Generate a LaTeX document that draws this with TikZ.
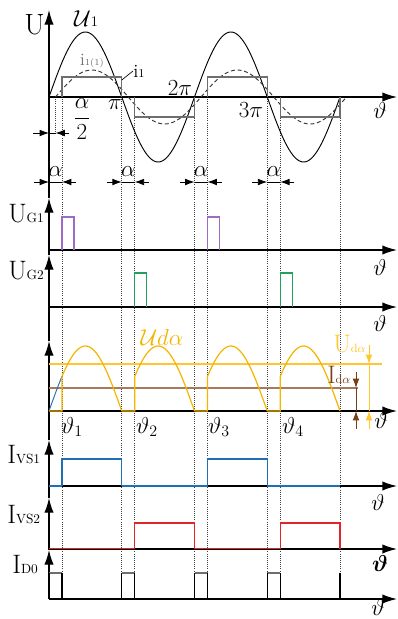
\documentclass[tikz,border=0pt]{standalone}
\usepackage{amsmath,amssymb}
\usepackage{xcolor}
\usepackage{tikz}
\usetikzlibrary{arrows.meta, calc}
\definecolor{gatepurple}{HTML}{9B6BC9}
\definecolor{gategreen}{HTML}{22A05C}
\definecolor{loadorange}{HTML}{F5B400}
\definecolor{udyellow}{HTML}{FFC62E}
\definecolor{idbrown}{HTML}{A87A5C}
\definecolor{arrbrown}{HTML}{7A3E12}
\definecolor{vsblue}{HTML}{1F6FB2}
\definecolor{vsred}{HTML}{E02428}
\definecolor{rectgray}{HTML}{6E6E6E}
\tikzstyle{axis} = [line width=1pt, -{Latex[length=11pt,width=7pt]}]
\tikzstyle{guide} = [densely dotted, line width=0.6pt, black!75]
\tikzstyle{wave} = [line width=0.7pt]
\tikzstyle{dim} = [line width=0.6pt, -{Latex[length=7pt,width=5pt]}]
\tikzstyle{pilabel} = [inner sep=0pt, font=\fontsize{19}{19}\selectfont]
\tikzstyle{thetalabel} = [inner sep=0pt, font=\fontsize{17}{17}\selectfont]
\tikzstyle{panellabel} = [inner sep=0pt, anchor=base west]
\newcommand{\axlabel}[2]{{\fontsize{20}{20}\selectfont #1}{\fontsize{10}{10}\selectfont #2}}
\def\pp{72.75}

\begin{document}
\begin{tikzpicture}[x=0.75pt, y=-0.75pt]
  \useasboundingbox (0,0) rectangle (398,619);

  % guide lines through all panels
  \foreach \gx in {62,121.75,134.75,194.5,207.5,267.25,280.25,340}
    \draw[guide] (\gx,97) -- (\gx,599);
  \draw[guide] (55.5,97) -- (55.5,134);

  % axes
  \foreach \yb in {97,250,307,411,486,549,599}
    \draw[axis] (49,\yb) -- (397,\yb);
  \foreach \ylo/\yhi in {599/550, 550/498, 498/440, 440/341, 341/255, 255/198, 198/10}
    \draw[axis] (49,\ylo) -- (49,\yhi);

  % top panel: U1, fundamental and square current
  \draw[wave] plot[domain=0:4*\pp, samples=161, smooth] ({49+\x}, {97-65*sin(\x/\pp*180)});
  \draw[wave, densely dashed, black!80] plot[domain=6.5:4*\pp+6.5, samples=161, smooth]
    ({49+\x}, {97-27*sin((\x-6.5)/\pp*180)});
  \draw[wave, rectgray, line width=0.9pt] (62,97) -- (62,77) -- (121.75,77) -- (121.75,97);
  \draw[wave, rectgray, line width=0.9pt] (134.75,97) -- (134.75,117) -- (194.5,117) -- (194.5,97);
  \draw[wave, rectgray, line width=0.9pt] (207.5,97) -- (207.5,77) -- (267.25,77) -- (267.25,97);
  \draw[wave, rectgray, line width=0.9pt] (280.25,97) -- (280.25,117) -- (340,117) -- (340,97);

  \node (lblU) [panellabel] at (24,34) {\fontsize{22}{22}\selectfont U};
  \node (lblUone) [inner sep=0pt] at (86,19) {\fontsize{18}{18}\selectfont$\mathcal{U}$\fontsize{11}{11}\selectfont 1};
  \node (lblifund) [inner sep=0pt, text=rectgray] at (92,61) {\fontsize{13}{13}\selectfont i\fontsize{7}{7}\selectfont 1(1)};
  \node (lblione) [inner sep=0pt, anchor=west] at (133,71) {\fontsize{14}{14}\selectfont i\fontsize{9}{9}\selectfont 1};
  \draw[line width=0.5pt] (121.75,80) -- (lblione.west);
  \node (lblpi) [pilabel] at (115,105) {$\pi$};
  \node (lbltwopi) [pilabel] at (180,88) {$2\pi$};
  \node (lblthreepi) [pilabel] at (251,110) {$3\pi$};
  \node (lblthtop) [thetalabel] at (380,110) {$\vartheta$};

  % alpha/2 and alpha markers
  \node (lblhalf) [inner sep=0pt] at (82,119) {\fontsize{16}{16}\selectfont$\dfrac{\alpha}{2}$};
  \draw[dim] (33,133) -- (49,133);
  \draw[dim] (69,133) -- (55.5,133);
  \draw[line width=0.5pt] (49,133) -- (55.5,133);
  \foreach \ax/\bx in {49/62, 121.75/134.75, 194.5/207.5, 267.25/280.25} {
    \draw[dim] (\ax-15,182) -- (\ax,182);
    \draw[dim] (\bx+14,182) -- (\bx,182);
    \draw[line width=0.5pt] (\ax,182) -- (\bx,182);
    \node (lblal\ax) [inner sep=0pt] at ({(\ax+\bx)/2},172) {\fontsize{18}{18}\selectfont$\alpha$};
  }

  % gate pulses
  \node (lblgone) [panellabel] at (8,222) {\axlabel{U}{G1}};
  \draw[wave, gatepurple, line width=0.9pt] (62,250) -- (62,217) -- (74,217) -- (74,250);
  \draw[wave, gatepurple, line width=0.9pt] (207.5,250) -- (207.5,217) -- (219.5,217) -- (219.5,250);
  \node (lblthg1) [thetalabel] at (380,267) {$\vartheta$};
  \node (lblgtwo) [panellabel] at (8,279) {\axlabel{U}{G2}};
  \draw[wave, gategreen, line width=0.9pt] (134.75,307) -- (134.75,273) -- (146.75,273) -- (146.75,307);
  \draw[wave, gategreen, line width=0.9pt] (280.25,307) -- (280.25,273) -- (292.25,273) -- (292.25,307);
  \node (lblthg2) [thetalabel] at (380,323) {$\vartheta$};

  % rectified output voltage
  \draw[wave, udyellow, line width=0.9pt] (49,364) -- (382,364);
  \draw[wave, idbrown, line width=0.9pt] (49,388) -- (358,388);
  \draw[wave, vsblue] plot[domain=0:13, samples=10] ({49+\x}, {411-65*sin(\x/\pp*180)});
  \foreach \k in {0,...,3}
    \draw[wave, loadorange, line width=0.9pt] ({49+\k*\pp},411) -- ({62+\k*\pp},411)
      -- plot[domain=13:\pp, samples=50, smooth] ({49+\k*\pp+\x}, {411-65*sin(\x/\pp*180)});
  \node (lblud) [inner sep=0pt, text=loadorange] at (162,337) {\fontsize{18}{18}\selectfont$\mathcal{U}d\alpha$};
  \node (lbludr) [panellabel, text=udyellow] at (333,352)
    {{\fontsize{19}{19}\selectfont U}{\fontsize{9}{9}\selectfont d$\alpha$}};
  \node (lblidr) [panellabel, text=arrbrown] at (327,383)
    {{\fontsize{19}{19}\selectfont I}{\fontsize{9}{9}\selectfont d$\alpha$}};
  \draw[dim, udyellow] (369,345) -- (369,364);
  \draw[line width=0.6pt, udyellow] (369,364) -- (369,411);
  \draw[dim, udyellow] (369,429) -- (369,411);
  \draw[dim, arrbrown] (356,372) -- (356,388);
  \draw[line width=0.6pt, arrbrown] (356,388) -- (356,411);
  \draw[dim, arrbrown] (356,429) -- (356,411);
  \node (lblthud) [thetalabel] at (381,420) {$\vartheta$};
  \foreach \tx/\tn in {72/1, 147/2, 219/3, 293/4}
    \node (lblth\tn) [thetalabel] at (\tx,427) {$\vartheta_{\tn}$};

  % thyristor VS1 current
  \node (lblvsone) [panellabel] at (7,463) {\axlabel{I}{VS1}};
  \draw[wave, vsblue, line width=1.1pt] (49,486) -- (62,486);
  \draw[wave, vsblue, line width=1.1pt] (121.75,486) -- (207.5,486);
  \draw[wave, vsblue, line width=1.1pt] (267.25,486) -- (340,486);
  \draw[wave, vsblue, line width=0.9pt] (62,486) -- (62,459) -- (121.75,459) -- (121.75,486);
  \draw[wave, vsblue, line width=0.9pt] (207.5,486) -- (207.5,459) -- (267.25,459) -- (267.25,486);
  \node (lblthvs1) [thetalabel] at (378,502) {$\vartheta$};

  % thyristor VS2 current
  \node (lblvstwo) [panellabel] at (7,523) {\axlabel{I}{VS2}};
  \draw[wave, vsred, line width=1.1pt] (49,548.5) -- (134.75,548.5);
  \draw[wave, vsred, line width=1.1pt] (194.5,548.5) -- (280.25,548.5);
  \draw[wave, vsred, line width=0.9pt] (134.75,549) -- (134.75,523) -- (194.5,523) -- (194.5,549);
  \draw[wave, vsred, line width=0.9pt] (280.25,549) -- (280.25,523) -- (340,523) -- (340,549);
  \node (lblthvs2) [thetalabel] at (380,563) {$\boldsymbol{\vartheta}$};

  % freewheeling diode current
  \node (lbldzero) [panellabel] at (12,573) {\axlabel{I}{D0}};
  \foreach \dx in {49,121.75,194.5,267.25} {
    \draw[line width=0.9pt, rectgray] (\dx,573) -- (\dx+13,573);
    \draw[line width=0.8pt] (\dx,573) -- (\dx,599);
    \draw[line width=0.8pt] (\dx+13,573) -- (\dx+13,599);
  }
  \draw[line width=0.8pt] (340,573) -- (340,599);
  \node (lblthd0) [thetalabel] at (378,607) {$\vartheta$};
\end{tikzpicture}
\end{document}
